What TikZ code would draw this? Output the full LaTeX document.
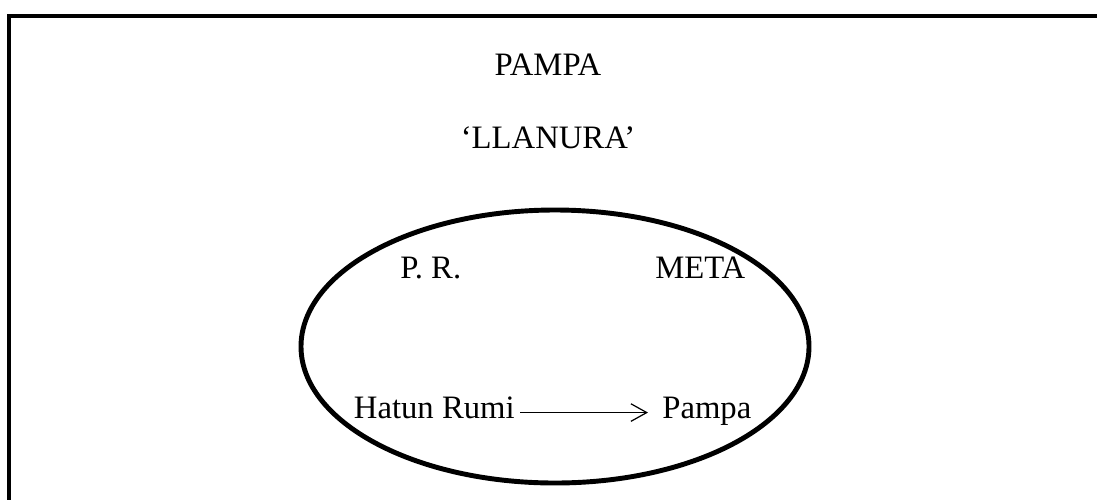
\documentclass[tikz,border=0pt]{standalone}
\usepackage{fontspec}
\setmainfont{Liberation Serif}
\usetikzlibrary{arrows.meta}

\begin{document}
\begin{tikzpicture}
    \tikzstyle{lbl} = [draw=none,fill=none,inner sep=0pt,anchor=base,
        font=\fontsize{18.6}{22}\selectfont]
    \tikzstyle{wrd} = [lbl,text height=0.7em,text depth=0.2em]

    \useasboundingbox (0,0) rectangle (21.94,-9.98);

    % frame
    \draw[line width=2.8pt] (0.18,-10.2) -- (0.18,-0.32) -- (22.2,-0.32);

    \node[lbl] (title) at (10.96,-1.5) {PAMPA};
    \node[lbl] (gloss) at (10.96,-2.96) {`LLANURA'};

    \draw[line width=2.8pt] (11.1,-6.93) ellipse (5.08cm and 2.73cm);

    \node[lbl,anchor=base west] (pr) at (8.0,-5.56) {P. R.};
    \node[lbl,anchor=base west] (meta) at (13.1,-5.56) {META};

    \node[wrd,anchor=base east] (hr) at (10.3,-8.36) {Hatun Rumi};
    \node[wrd,anchor=base west] (pa) at (13.24,-8.36) {Pampa};

    \draw[-{Straight Barb[length=9pt,width=10pt]},line width=0.7pt,
        shorten <=0.1cm,shorten >=0.28cm] ([yshift=0.6pt]hr.east) -- ([yshift=0.6pt]pa.west);

\end{tikzpicture}
\end{document}
